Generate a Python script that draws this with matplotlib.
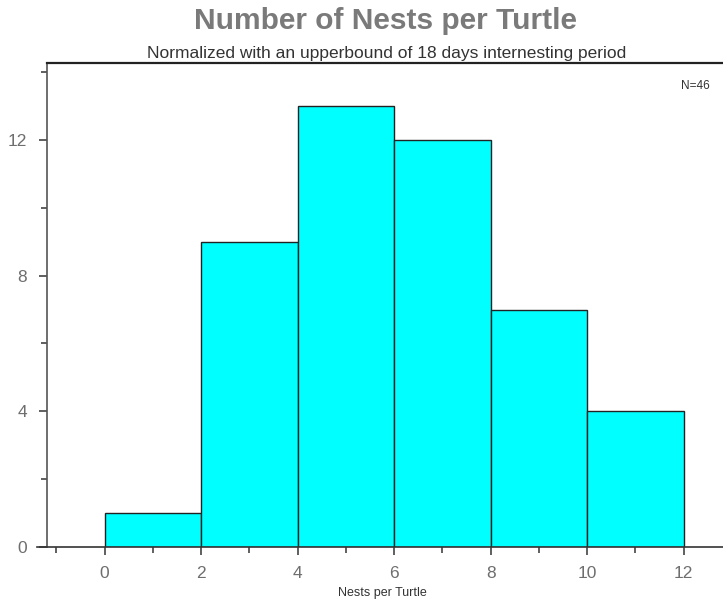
import matplotlib.pyplot as plt
from matplotlib.ticker import MultipleLocator

# histogram of nests per turtle
bin_edges = [0, 2, 4, 6, 8, 10, 12]
counts = [1, 9, 13, 12, 7, 4]
n_total = 46

grey = '#6e6e6e'
fam = ['Liberation Sans', 'DejaVu Sans']

fig = plt.figure(figsize=(7.23, 6.08), dpi=100)
ax = fig.add_axes([37 / 723, 61 / 608, 690 / 723, 484 / 608])

lefts = bin_edges[:-1]
widths = [b - a for a, b in zip(bin_edges[:-1], bin_edges[1:])]
ax.bar(lefts, counts, width=widths, align='edge', color='#00ffff',
       edgecolor='#222222', linewidth=1.0)

ax.set_xlim(-1.4, 12.9)
ax.set_ylim(0, 14.27)

# axis lines
ax.spines['right'].set_visible(False)
ax.spines['left'].set_position(('data', -1.2))
ax.spines['top'].set_bounds(-1.2, 12.9)
ax.spines['top'].set_linewidth(1.6)
ax.spines['top'].set_color('#222222')
ax.spines['left'].set_color('#555555')
ax.spines['bottom'].set_color('#333333')
ax.spines['left'].set_linewidth(1.2)
ax.spines['bottom'].set_linewidth(1.2)

ax.xaxis.set_major_locator(MultipleLocator(2))
ax.xaxis.set_minor_locator(MultipleLocator(1))
ax.yaxis.set_major_locator(MultipleLocator(4))
ax.yaxis.set_minor_locator(MultipleLocator(2))
ax.tick_params(which='major', direction='out', length=6, width=1.2,
               color='#444444', labelcolor=grey, labelsize=12.5, pad=8)
ax.tick_params(which='minor', direction='out', length=4, width=1.2, color='#444444')
for lbl in ax.get_xticklabels() + ax.get_yticklabels():
    lbl.set_family(fam)

ax.set_xlabel('Nests per Turtle', fontsize=9, color='#333333', family=fam, labelpad=4)

ax.text(0.975, 0.965, f'N={n_total}', transform=ax.transAxes, fontsize=8.5,
        color='#333333', ha='right', va='top', family=fam)

fig.text(385 / 723, 1 - 29 / 608, 'Number of Nests per Turtle', ha='center', va='baseline',
         fontsize=21.5, fontweight='bold', color='#7a7a7a', family=fam)
fig.text(387 / 723, 1 - 58 / 608, 'Normalized with an upperbound of 18 days internesting period',
         ha='center', va='baseline', fontsize=12.5, color='#333333', family=fam)

fig.savefig('out.png', dpi=100)
